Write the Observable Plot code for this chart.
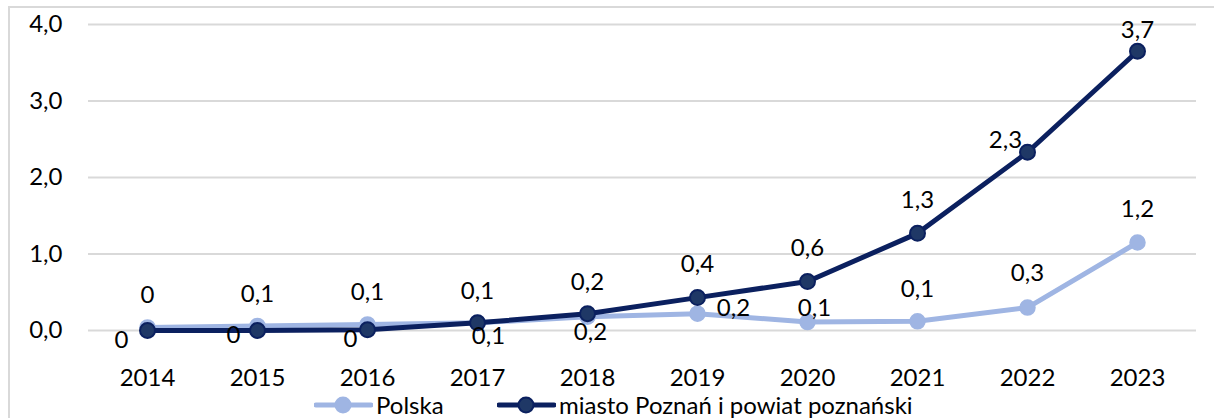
<!DOCTYPE html>
<html>
<head>
<meta charset="utf-8">
<script src="https://cdn.jsdelivr.net/npm/d3@7"></script>
<script src="https://cdn.jsdelivr.net/npm/@observablehq/plot@0.6"></script>
<style>
  html, body { margin: 0; padding: 0; background: #fff; width: 1214px; height: 418px; overflow: hidden; }
  #frame { position: absolute; left: 8px; top: 6px; width: 1230px; height: 440px; border: 2px solid #d9d9d9; box-sizing: border-box; }
  #chart { position: absolute; left: 0; top: 0; }
  #legend { position: absolute; left: 0; top: 393px; width: 1214px; height: 25px; font-family: Lato, sans-serif; font-size: 24px; color: #000; }
  .item { position: absolute; top: 0; display: flex; align-items: center; height: 24px; }
  .item svg { display: block; }
  .item span { margin-left: 3px; line-height: 24px; }
</style>
</head>
<body>
<div id="frame"></div>
<div id="chart"></div>
<div id="legend"></div>
<script>
const years = ["2014","2015","2016","2017","2018","2019","2020","2021","2022","2023"];
const polskaValues = [0.04, 0.06, 0.08, 0.10, 0.18, 0.22, 0.11, 0.12, 0.30, 1.15];
const poznanValues = [0.00, 0.00, 0.01, 0.10, 0.22, 0.43, 0.64, 1.27, 2.33, 3.65];
const polskaLabels = ["0","0,1","0,1","0,1","0,2","0,2","0,1","0,1","0,3","1,2"];
const poznanLabels = ["0","0","0","0,1","0,2","0,4","0,6","1,3","2,3","3,7"];
const yTicks = [0, 1, 2, 3, 4];
const seriesNames = ["Polska", "miasto Poznań i powiat poznański"];

// label placement (pixel offsets from the point)
const polskaLabelOffsets = [[0,-32],[0,-32],[0,-32],[11,13],[3,16],[36,-5],[7,-14],[0,-32],[0,-34],[0,-33]];
const poznanLabelOffsets = [[-26,10],[-24,5],[-17,10],[0,-32],[0,-31],[0,-33],[0,-33],[0,-33],[-22,-12],[0,-21]];

const colPolska = "#9fb5e3";
const colPoznan = "#0b205f";
const colPoznanDot = "#1f3866";
const FS = 24;

const polska = years.map((y, i) => ({year: y, value: polskaValues[i], label: polskaLabels[i], off: polskaLabelOffsets[i]}));
const poznan = years.map((y, i) => ({year: y, value: poznanValues[i], label: poznanLabels[i], off: poznanLabelOffsets[i]}));

const fmt = d => d.toFixed(1).replace(".", ",");

const labelMarks = [...polska, ...poznan].map(d =>
  Plot.text([d], {x: "year", y: "value", text: "label", dx: d.off[0], dy: d.off[1],
    fill: "#000", fontSize: FS, fontFamily: "Lato, sans-serif"})
);

const chart = Plot.plot({
  width: 1214,
  height: 395,
  marginLeft: 88,
  marginRight: 18,
  marginTop: 24,
  marginBottom: 65,
  x: {type: "point", domain: years, padding: 0.5},
  y: {domain: [0, 4]},
  style: {fontFamily: "Lato, sans-serif", fontSize: FS + "px", color: "#000", background: "transparent", overflow: "visible"},
  marks: [
    Plot.gridY(yTicks, {stroke: "#d9d9d9", strokeOpacity: 1, strokeWidth: 2}),
    Plot.axisY(yTicks, {tickSize: 0, tickPadding: 26, tickFormat: fmt, fontSize: FS, label: null}),
    Plot.axisX({tickSize: 0, tickPadding: 38, fontSize: FS, label: null}),
    Plot.line(polska, {x: "year", y: "value", stroke: colPolska, strokeWidth: 5}),
    Plot.dot(polska, {x: "year", y: "value", r: 7.5, fill: colPolska, stroke: colPolska}),
    Plot.line(poznan, {x: "year", y: "value", stroke: colPoznan, strokeWidth: 5}),
    Plot.dot(poznan, {x: "year", y: "value", r: 7.5, fill: colPoznanDot, stroke: colPoznan, strokeWidth: 2}),
    ...labelMarks
  ]
});
document.getElementById("chart").appendChild(chart);

// legend
const legend = document.getElementById("legend");
const items = [
  {name: seriesNames[0], left: 314, stroke: colPolska, fill: colPolska},
  {name: seriesNames[1], left: 497, stroke: colPoznan, fill: colPoznanDot}
];
for (const it of items) {
  const div = document.createElement("div");
  div.className = "item";
  div.style.left = it.left + "px";
  div.innerHTML = `<svg width="59" height="24"><line x1="2" x2="57" y1="12" y2="12" stroke="${it.stroke}" stroke-width="5" stroke-linecap="round"/><circle cx="29" cy="12" r="7.5" fill="${it.fill}" stroke="${it.stroke}" stroke-width="2"/></svg><span>${it.name}</span>`;
  legend.appendChild(div);
}
</script>
</body>
</html>
